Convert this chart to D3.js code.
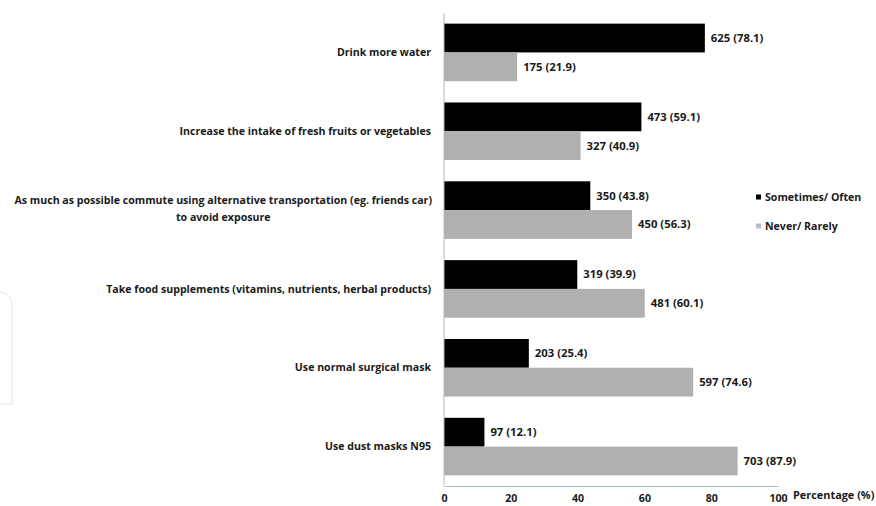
<!DOCTYPE html>
<html>
<head>
<meta charset="utf-8">
<script src="https://cdn.jsdelivr.net/npm/d3@7"></script>
<style>
  body { margin: 0; background: #fff; }
  text { font-family: "Open Sans", "Liberation Sans", sans-serif; fill: #1a1a1a; }
  .cat { font-size: 10.6px; font-weight: 700; }
  .val { font-size: 11.3px; font-weight: 700; }
  .tick text { font-size: 10.6px; font-weight: 700; }
  .legend { font-size: 10.6px; font-weight: 700; }
  .title { font-size: 10.9px; font-weight: 700; }
</style>
</head>
<body>
<svg width="876" height="506"></svg>
<script>
// behaviours, top to bottom
const categories = [
  ["Drink more water"],
  ["Increase the intake of fresh fruits or vegetables"],
  ["As much as possible commute using alternative transportation (eg. friends car)", "to avoid exposure"],
  ["Take food supplements (vitamins, nutrients, herbal products)"],
  ["Use normal surgical mask"],
  ["Use dust masks N95"]
];
const seriesNames = ["Sometimes/ Often", "Never/ Rarely"];
const oftenCount = [625, 473, 350, 319, 203, 97];
const oftenPct = [78.1, 59.1, 43.8, 39.9, 25.4, 12.1];
const neverCount = [175, 327, 450, 481, 597, 703];
const neverPct = [21.9, 40.9, 56.3, 60.1, 74.6, 87.9];
const xTicks = [0, 20, 40, 60, 80, 100];

const colors = ["#000000", "#b0b0b0"];
const svg = d3.select("svg");

const plotLeft = 444, plotRight = 778, plotTop = 13, plotBottom = 486;

const x = d3.scaleLinear().domain([0, 100]).range([plotLeft, plotRight]);
const y = d3.scaleBand()
  .domain(d3.range(categories.length))
  .range([plotTop, plotBottom])
  .paddingInner(0.27)
  .paddingOuter(0.135);
const sub = d3.scaleBand().domain([0, 1]).range([0, y.bandwidth()]);

// faint watermark on the left edge
svg.append("path")
  .attr("d", "M0,292 Q12,294 12,306 L12,404 L0,404")
  .attr("fill", "none")
  .attr("stroke", "#f0f0f0")
  .attr("stroke-width", 1.5);

const rows = categories.map((c, i) => ({
  i: i,
  lines: c,
  vals: [
    { s: 0, pct: oftenPct[i], n: oftenCount[i] },
    { s: 1, pct: neverPct[i], n: neverCount[i] }
  ]
}));

const g = svg.selectAll(".row")
  .data(rows)
  .enter().append("g")
  .attr("class", "row")
  .attr("transform", d => `translate(0,${y(d.i)})`);

g.selectAll("rect")
  .data(d => d.vals)
  .enter().append("rect")
  .attr("x", x(0))
  .attr("y", d => sub(d.s))
  .attr("width", d => x(d.pct) - x(0))
  .attr("height", sub.bandwidth())
  .attr("fill", d => colors[d.s]);

g.selectAll(".val")
  .data(d => d.vals)
  .enter().append("text")
  .attr("class", "val")
  .attr("x", d => x(d.pct) + 6)
  .attr("y", d => sub(d.s) + sub.bandwidth() / 2)
  .attr("dy", "0.35em")
  .text(d => `${d.n} (${d.pct.toFixed(1)})`);

// category labels, multi-line ones centred as a block
g.each(function(d) {
  const el = d3.select(this);
  const cy = y.bandwidth() / 2;
  if (d.lines.length === 1) {
    el.append("text").attr("class", "cat")
      .attr("x", 431).attr("y", cy).attr("dy", "0.35em")
      .attr("text-anchor", "end").text(d.lines[0]);
  } else {
    const t1 = el.append("text").attr("class", "cat")
      .attr("x", 432).attr("y", cy - 10).attr("dy", "0.35em")
      .attr("text-anchor", "end").text(d.lines[0]);
    const w = t1.node().getComputedTextLength();
    el.append("text").attr("class", "cat")
      .attr("x", 432 - w / 2).attr("y", cy + 7).attr("dy", "0.35em")
      .attr("text-anchor", "middle").text(d.lines[1]);
  }
});

// axes
svg.append("line")
  .attr("x1", x(0)).attr("x2", x(0)).attr("y1", plotTop).attr("y2", plotBottom)
  .attr("stroke", "#a9bccb").attr("stroke-width", 1);

const xAxis = svg.append("g")
  .attr("transform", `translate(0,${plotBottom})`)
  .call(d3.axisBottom(x).tickValues(xTicks).tickSize(0).tickPadding(8));
xAxis.select(".domain").attr("stroke", "#a9bccb");
xAxis.selectAll("text").attr("fill", "#1a1a1a");

svg.append("text")
  .attr("class", "title")
  .attr("x", 793).attr("y", 495).attr("dy", "0.35em")
  .text("Percentage (%)");

// legend
const leg = svg.selectAll(".leg")
  .data(seriesNames)
  .enter().append("g")
  .attr("class", "leg")
  .attr("transform", (d, i) => `translate(756,${197 + i * 29})`);
leg.append("rect")
  .attr("x", 0).attr("y", -2.5).attr("width", 5).attr("height", 5)
  .attr("fill", (d, i) => i === 0 ? "#000" : "#b8bec4");
leg.append("text")
  .attr("class", "legend")
  .attr("x", 9).attr("y", 0).attr("dy", "0.35em")
  .text(d => d);
</script>
</body>
</html>
